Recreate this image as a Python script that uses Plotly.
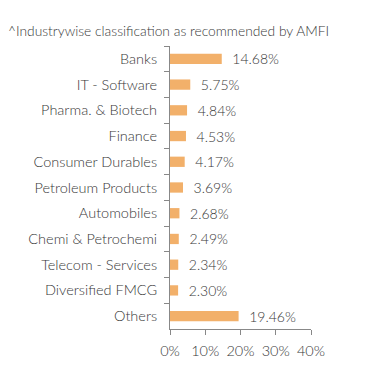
import plotly.graph_objects as go

categories = ["Banks", "IT - Software", "Pharma. & Biotech", "Finance", "Consumer Durables",
              "Petroleum Products", "Automobiles", "Chemi & Petrochemi", "Telecom - Services",
              "Diversified FMCG", "Others"]
values = [14.68, 5.75, 4.84, 4.53, 4.17, 3.69, 2.68, 2.49, 2.34, 2.30, 19.46]
x_ticks = [0, 10, 20, 30, 40]
x_tick_labels = ["0%", "10%", "20%", "30%", "40%"]
title_text = "^Industrywise classification as recommended by AMFI"

FONT = "Lato, sans-serif"
TXT = "#383838"

fig = go.Figure(go.Bar(
    x=values, y=categories, orientation="h",
    marker=dict(color="#F2B06A", line=dict(width=0)),
    text=["\u00a0\u00a0" + f"{v:.2f}%" for v in values],
    textposition="outside", cliponaxis=False, constraintext="none",
    textfont=dict(family=FONT, size=14, color=TXT, weight=300),
))

fig.update_layout(
    width=391, height=382,
    margin=dict(l=170, r=80, t=46, b=53),
    plot_bgcolor="white", paper_bgcolor="white",
    bargap=0.6, showlegend=False,
    font=dict(family=FONT, size=14, color=TXT, weight=300),
    annotations=[dict(text=title_text, xref="paper", yref="paper", x=-164/141, y=1 + 16/283,
                      xanchor="left", yanchor="middle", showarrow=False,
                      font=dict(family=FONT, size=13.8, color=TXT, weight=300))],
)
fig.update_xaxes(range=[0, 40], tickvals=x_ticks, ticktext=x_tick_labels, automargin=False,
                 showgrid=False, zeroline=False, showline=True, linecolor="#888888",
                 ticks="outside", ticklen=5, tickcolor="#888888", ticklabelstandoff=4,
                 tickfont=dict(family=FONT, size=14.5, color=TXT, weight=300))
fig.update_yaxes(autorange="reversed", showgrid=False, showline=True, linecolor="#888888",
                 ticks="outside", ticklen=5, tickcolor="#888888", tickson="boundaries",
                 ticklabelstandoff=9, automargin=False,
                 tickfont=dict(family=FONT, size=14.5, color=TXT, weight=300))

fig.write_html("out.html", post_script="document.body.style.margin='0px';",
               config={"displayModeBar": False})
